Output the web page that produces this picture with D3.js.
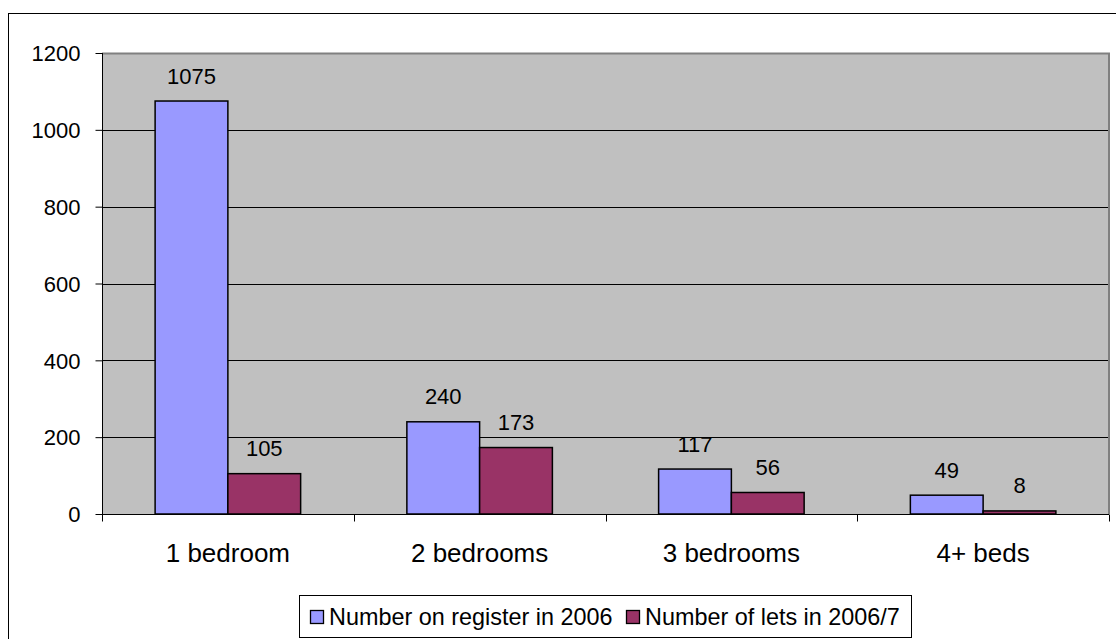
<!DOCTYPE html>
<html>
<head>
<meta charset="utf-8">
<script src="https://cdn.jsdelivr.net/npm/d3@7"></script>
<style>
  html, body { margin: 0; padding: 0; background: #fff; }
  svg { display: block; font-family: "Liberation Sans", Arial, Helvetica, sans-serif; }
</style>
</head>
<body>
<svg id="chart" width="1116" height="639"></svg>
<script>
// Housing register vs lettings by property size
const categories = ["1 bedroom", "2 bedrooms", "3 bedrooms", "4+ beds"];
const seriesNames = ["Number on register in 2006", "Number of lets in 2006/7"];
const registerValues = [1075, 240, 117, 49];
const letsValues = [105, 173, 56, 8];
const yTicks = [0, 200, 400, 600, 800, 1000, 1200];
const seriesColors = ["#9999FF", "#993366"];

const seriesValues = [registerValues, letsValues];

const svg = d3.select("#chart");
const plot = { left: 102, right: 1109, top: 53, bottom: 514 };

// Outer chart frame
svg.append("rect")
  .attr("x", 8.5).attr("y", 13.5)
  .attr("width", 1200).attr("height", 700)
  .attr("fill", "#fff").attr("stroke", "#000").attr("stroke-width", 1);

const x = d3.scaleBand().domain(categories).range([plot.left, plot.right]).padding(0);
const xs = d3.scaleBand().domain(d3.range(seriesNames.length))
  .range([0, x.bandwidth()]).paddingInner(0).paddingOuter(0.73);
const y = d3.scaleLinear().domain([0, 1200]).range([plot.bottom, plot.top]);

// Plot area background
svg.append("rect")
  .attr("x", plot.left).attr("y", plot.top)
  .attr("width", plot.right - plot.left).attr("height", plot.bottom - plot.top)
  .attr("fill", "#C0C0C0");

// Gridlines
svg.append("g").selectAll("line")
  .data(yTicks.filter(t => t > 0 && t < 1200))
  .join("line")
  .attr("x1", plot.left).attr("x2", plot.right)
  .attr("y1", d => Math.round(y(d)) + 0.5).attr("y2", d => Math.round(y(d)) + 0.5)
  .attr("stroke", "#000").attr("stroke-width", 1);

// Plot area border (top and right)
svg.append("path")
  .attr("d", `M${plot.left},${plot.top + 0.5}H${plot.right}V${plot.bottom}`)
  .attr("fill", "none").attr("stroke", "#808080").attr("stroke-width", 2);

// Bars
const groups = svg.append("g").selectAll("g")
  .data(categories)
  .join("g")
  .attr("transform", d => `translate(${x(d)},0)`);

groups.selectAll("rect")
  .data((c, ci) => seriesValues.map((vals, si) => ({ si, v: vals[ci] })))
  .join("rect")
  .attr("x", d => xs(d.si))
  .attr("y", d => y(d.v))
  .attr("width", xs.bandwidth())
  .attr("height", d => y(0) - y(d.v))
  .attr("fill", d => seriesColors[d.si])
  .attr("stroke", "#000").attr("stroke-width", 1.5);

// Value labels
groups.selectAll("text")
  .data((c, ci) => seriesValues.map((vals, si) => ({ si, v: vals[ci] })))
  .join("text")
  .attr("x", d => xs(d.si) + xs.bandwidth() / 2)
  .attr("y", d => y(d.v) - 17.5)
  .attr("text-anchor", "middle")
  .attr("font-size", 22)
  .attr("fill", "#000")
  .text(d => d.v);

// Y axis
const yAxis = svg.append("g")
  .attr("transform", `translate(${plot.left + 0.5},0)`)
  .call(d3.axisLeft(y).tickValues(yTicks).tickSize(7).tickPadding(15).tickFormat(d3.format("d")));
yAxis.select(".domain").attr("stroke", "#000").attr("d", `M0,${plot.top}V${plot.bottom}`);
yAxis.selectAll(".tick line").attr("stroke", "#000");
yAxis.selectAll(".tick text")
  .attr("font-size", 22).attr("font-family", "Liberation Sans, Arial, sans-serif")
  .attr("fill", "#000").attr("dy", "0.35em");

// X axis: ticks at category boundaries
const xAxisG = svg.append("g").attr("transform", `translate(0,${plot.bottom + 0.5})`);
xAxisG.append("line")
  .attr("x1", plot.left).attr("x2", plot.right)
  .attr("stroke", "#000").attr("stroke-width", 1);
const boundaries = categories.map(c => x(c)).concat([x(categories[categories.length - 1]) + x.bandwidth()]);
xAxisG.selectAll(".bt")
  .data(boundaries)
  .join("line")
  .attr("class", "bt")
  .attr("x1", d => Math.round(d) + 0.5).attr("x2", d => Math.round(d) + 0.5)
  .attr("y1", 0).attr("y2", 7)
  .attr("stroke", "#000");
xAxisG.selectAll("text")
  .data(categories)
  .join("text")
  .attr("x", d => x(d) + x.bandwidth() / 2)
  .attr("y", 47)
  .attr("text-anchor", "middle")
  .attr("font-size", 26)
  .attr("fill", "#000")
  .text(d => d);

// Legend
const legend = svg.append("g");
legend.append("rect")
  .attr("x", 299.5).attr("y", 595.5)
  .attr("width", 612).attr("height", 42)
  .attr("fill", "#fff").attr("stroke", "#000").attr("stroke-width", 1);
const legendX = [310, 626];
const items = legend.selectAll("g")
  .data(seriesNames)
  .join("g")
  .attr("transform", (d, i) => `translate(${legendX[i]},0)`);
items.append("rect")
  .attr("x", 0.5).attr("y", 610.5)
  .attr("width", 13).attr("height", 13)
  .attr("fill", (d, i) => seriesColors[i])
  .attr("stroke", "#000").attr("stroke-width", 1.3);
items.append("text")
  .attr("x", 19).attr("y", 625)
  .attr("font-size", 23.4)
  .attr("fill", "#000")
  .text(d => d);
</script>
</body>
</html>
